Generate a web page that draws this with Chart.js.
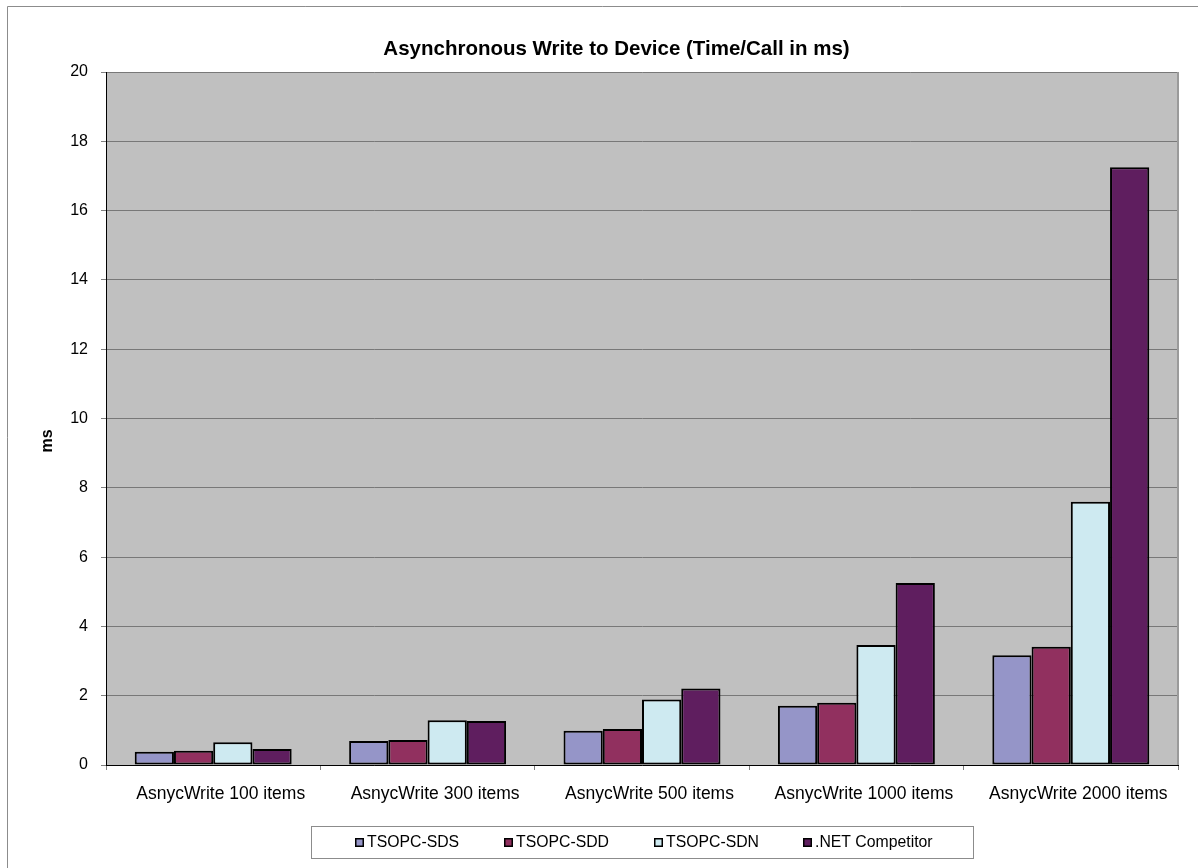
<!DOCTYPE html>
<html>
<head>
<meta charset="utf-8">
<title>Asynchronous Write to Device</title>
<script src="https://cdn.jsdelivr.net/npm/chart.js@4.4.1/dist/chart.umd.min.js"></script>
<style>
  html, body { margin: 0; padding: 0; background: #ffffff; }
  canvas { display: block; }
</style>
</head>
<body>
<canvas id="chart" width="1198" height="868"></canvas>
<script>
// Benchmark categories (number of items written per call)
const categories = [
  'AsnycWrite 100 items',
  'AsnycWrite 300 items',
  'AsnycWrite 500 items',
  'AsnycWrite 1000 items',
  'AsnycWrite 2000 items'
];

// Series names
const seriesNames = ['TSOPC-SDS', 'TSOPC-SDD', 'TSOPC-SDN', '.NET Competitor'];

// Time per call in ms
const sdsValues = [0.38, 0.69, 0.99, 1.71, 3.17];
const sddValues = [0.41, 0.72, 1.04, 1.80, 3.41];
const sdnValues = [0.66, 1.29, 1.89, 3.46, 7.60];
const netValues = [0.46, 1.27, 2.21, 5.25, 17.25];

// Value axis range
const yMin = 0;
const yMax = 20;
const yStep = 2;

const seriesValues = [sdsValues, sddValues, sdnValues, netValues];
const seriesColors = ['#9595C8', '#91305F', '#CEEAF1', '#5F1E5F'];

const FONT = 'Arial, "Liberation Sans", Helvetica, sans-serif';

// Page frame, plot background, plot edge and the axis title
const framePlugin = {
  id: 'frame',
  beforeDraw(chart) {
    const { ctx, chartArea: a } = chart;
    ctx.save();
    ctx.fillStyle = '#ffffff';
    ctx.fillRect(0, 0, chart.width, chart.height);
    ctx.strokeStyle = '#8c8c8c';
    ctx.lineWidth = 1;
    ctx.beginPath();
    ctx.moveTo(7.5, chart.height);
    ctx.lineTo(7.5, 6.5);
    ctx.lineTo(chart.width, 6.5);
    ctx.stroke();
    ctx.fillStyle = '#C0C0C0';
    ctx.fillRect(a.left, a.top, a.right - a.left, a.bottom - a.top);
    ctx.restore();
  },
  beforeDatasetsDraw(chart) {
    const { ctx, chartArea: a } = chart;
    ctx.save();
    ctx.strokeStyle = '#9a9a9a';
    ctx.lineWidth = 2;
    ctx.beginPath();
    ctx.moveTo(a.right, a.top);
    ctx.lineTo(a.right, a.bottom);
    ctx.stroke();
    ctx.restore();
  },
  afterDraw(chart) {
    const { ctx } = chart;
    ctx.save();
    ctx.translate(48, 441);
    ctx.rotate(-Math.PI / 2);
    ctx.fillStyle = '#000000';
    ctx.font = 'bold 16px ' + FONT;
    ctx.textAlign = 'center';
    ctx.textBaseline = 'middle';
    ctx.fillText('ms', 0, 0);
    ctx.restore();
  }
};

// Boxed legend below the category axis
const boxedLegendPlugin = {
  id: 'boxedLegend',
  afterDraw(chart) {
    const { ctx } = chart;
    const box = { left: 311, top: 826, right: 973, bottom: 858 };
    const square = 9, textGap = 3, itemGap = 44.7;
    ctx.save();
    ctx.strokeStyle = '#8c8c8c';
    ctx.lineWidth = 1;
    ctx.strokeRect(box.left + 0.5, box.top + 0.5, box.right - box.left, box.bottom - box.top);

    ctx.font = '15.8px ' + FONT;
    ctx.textBaseline = 'middle';
    ctx.textAlign = 'left';
    const items = chart.data.datasets.map(ds => ({
      label: ds.label,
      color: ds.backgroundColor,
      w: ctx.measureText(ds.label).width
    }));
    const total = items.reduce((s, it) => s + square + textGap + it.w, 0) + itemGap * (items.length - 1);
    let x = (box.left + box.right) / 2 - total / 2 + 2;
    const cy = (box.top + box.bottom) / 2 + 0.5;
    items.forEach(it => {
      const sx = Math.round(x);
      ctx.fillStyle = it.color;
      ctx.fillRect(sx, cy - square / 2, square, square);
      ctx.strokeStyle = '#000000';
      ctx.lineWidth = 1.5;
      ctx.strokeRect(sx + 0.75, cy - square / 2 + 0.75, square - 1.5, square - 1.5);
      ctx.fillStyle = '#000000';
      ctx.fillText(it.label, sx + square + textGap, cy);
      x += square + textGap + it.w + itemGap;
    });
    ctx.restore();
  }
};

new Chart(document.getElementById('chart'), {
  type: 'bar',
  data: {
    labels: categories,
    datasets: seriesNames.map((name, i) => ({
      label: name,
      data: seriesValues[i],
      backgroundColor: seriesColors[i],
      borderColor: '#000000',
      borderWidth: 2,
      borderSkipped: false
    }))
  },
  options: {
    responsive: false,
    animation: false,
    devicePixelRatio: 1,
    layout: { padding: { left: 55, right: 20, top: 0, bottom: 0 } },
    datasets: { bar: { categoryPercentage: 0.732, barPercentage: 1 } },
    plugins: {
      legend: { display: false },
      tooltip: { enabled: false },
      title: {
        display: true,
        text: 'Asynchronous Write to Device (Time/Call in ms)',
        color: '#000000',
        font: { family: FONT, size: 20.5, weight: 'bold' },
        padding: { top: 37, bottom: 10.4 }
      }
    },
    scales: {
      x: {
        grid: {
          display: true,
          offset: true,
          drawOnChartArea: false,
          drawTicks: true,
          tickLength: 5,
          tickColor: '#808080'
        },
        border: { display: true, color: '#000000', width: 1 },
        ticks: {
          color: '#000000',
          font: { family: FONT, size: 17.5 },
          padding: 14,
          labelOffset: 7.5,
          maxRotation: 0,
          autoSkip: false
        },
        afterFit(scale) { scale.height = 103; }
      },
      y: {
        min: yMin,
        max: yMax,
        ticks: {
          stepSize: yStep,
          color: '#000000',
          font: { family: FONT, size: 16 },
          padding: 13
        },
        grid: { color: '#787878', tickColor: '#808080', tickLength: 5 },
        border: { display: true, color: '#000000', width: 1 },
        afterFit(scale) { scale.width = 51; }
      }
    }
  },
  plugins: [framePlugin, boxedLegendPlugin]
});
</script>
</body>
</html>
